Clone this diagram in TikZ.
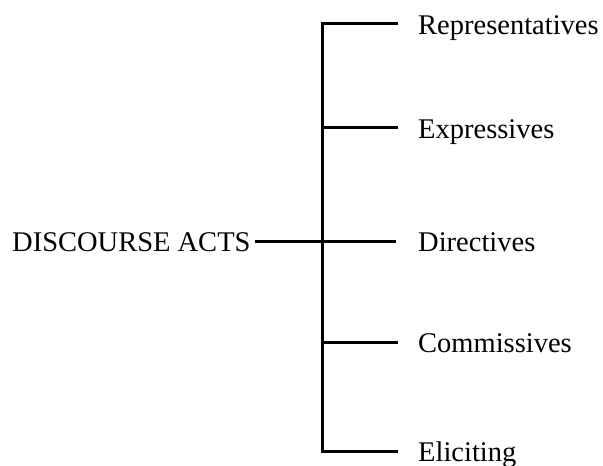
\documentclass[tikz,border=0pt]{standalone}
\usepackage{fontspec}
\setmainfont{Liberation Serif}
\begin{document}
\begin{tikzpicture}[x=1pt,y=1pt,
  lbl/.style={inner sep=0pt,anchor=base west,font=\fontsize{28.5}{34}\selectfont},
  conn/.style={line width=3pt,line join=miter}]
\useasboundingbox (0,0) rectangle (603,466);
\node[lbl] (root) at (12,214) {DISCOURSE ACTS};
\node[lbl] (l1) at (418,431) {Representatives};
\node[lbl] (l2) at (418,327) {Expressives};
\node[lbl] (l3) at (418,214) {Directives};
\node[lbl] (l4) at (418,113) {Commissives};
\node[lbl] (l5) at (418,4) {Eliciting};
\coordinate (b1) at (322,442);
\coordinate (b2) at (322,338);
\coordinate (b3) at (322,224);
\coordinate (b4) at (322,123);
\coordinate (b5) at (322,14);
\draw[conn] ([xshift=-20pt]b1 -| l1.west) -- (b1) -- (b5) -- ([xshift=-20pt]b5 -| l5.west);
\draw[conn] (b2) -- ([xshift=-20pt]b2 -| l2.west);
\draw[conn] (b3) -- ([xshift=-22pt]b3 -| l3.west);
\draw[conn] (b4) -- ([xshift=-20pt]b4 -| l4.west);
\draw[conn] ([xshift=4pt]root.base east |- b3) -- (b3);
\end{tikzpicture}
\end{document}
